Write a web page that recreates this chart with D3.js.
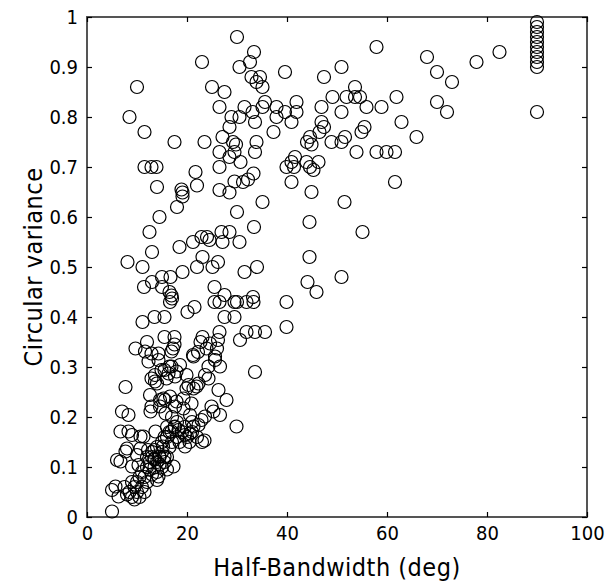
<!DOCTYPE html>
<html><head><meta charset="utf-8">
<script src="https://cdn.jsdelivr.net/npm/d3@7"></script>
<style>body{margin:0;background:#fff}</style>
</head><body>
<svg id="c" width="615" height="585"></svg>
<script>
const xTicks = [0,20,40,60,80,100];
const yTicks = [0,0.1,0.2,0.3,0.4,0.5,0.6,0.7,0.8,0.9,1];
const xTitle = "Half-Bandwidth (deg)";
const yTitle = "Circular variance";
const halfBandwidth = [
30,23,33.4,30.5,32.6,32.9,10,25,27.5,26.5,31.5,33.1,8.5,28.9,30.5,33.6,11.5,28.5,17.5,23.5,27.1,29.2,29.8,26.5,29.5,28.5,33.6,11.5,12.9,13.9,26.5,30.7,21.7,14,18.9,22,26.5,29.5,31.2,32.2,33.3,
57.9,39.6,50.9,47.4,34.6,33.9,35.1,53.6,49.1,51.9,53.6,54.6,61.9,55.9,58.9,46.9,50.9,41.9,41.9,35.6,35.1,37.9,37.9,39.6,40.9,37.3,46.9,47.4,46.5,62.9,55.5,54.9,65.9,44.6,44,44.9,51.6,50.9,48.9,33.9,53.9,57.9,59.9,61.6,41.6,39.9,40.9,41.4,43.9,44.6,46.3,45.3,40.9,61.6,44.9,
90,90,90,90,90,90,90,90,90,90,90,68,70,73,77.9,82.5,70,72,
19.1,19.1,28.5,30,18,14.5,12.5,18.5,13,21.2,22.9,24,24.5,26.9,28.5,27.1,30.5,33.4,8.1,11.1,23.1,22,25.1,26.2,19.1,31.5,34,15,16.7,13,11.4,15,16.5,16.9,17,16.6,25.5,27.5,25.5,26.5,29.5,30,31.9,33.2,21.5,20.1,11.1,13.5,15.5,27.5,29.5,31.9,30.6,33.6,35.6,
15.5,17.5,23.1,22.7,23.9,26.5,26.2,26,12,24.6,9.7,11.6,12.9,14.3,17.2,17.5,21.2,22.2,
16.9,21.3,25.6,26.6,24.3,23.6,14.3,12.3,18.6,16.9,17.9,14.9,13.6,12.9,13.6,15.9,17.6,20.3,21.9,22.3,24.3,26.3,27.9,12.6,14.6,16.6,19.3,20.9,17.6,14.6,12.9,24.9,
33.6,25.6,16.3,19.9,21.3,19.9,25.3,26.6,23.6,22.9,29.9,17.9,19.3,15.6,20.6,21.3,22.3,17.6,18.3,16.9,19.6,20.6,23.5,19.6,17.3,16,
7.7,14,15.3,12.7,7,8.3,15.7,6.7,8.3,9,10.7,11.3,13.7,8,7.7,10.7,10,6,6.7,9,10.3,5,5.7,6.3,5,14.3,14,15.5,16.5,12.2,13.5,15.2,13.5,14.5,15.5,
35.1,51.5,44.5,55.1,44.5,50.9,44.1,45.9,33.3,39.9,39.9,
7.5,8.5,9,9.5,10,10.5,11,9,8,10,11.5,12,10.5,9.5,
11,12,12.5,13,13.5,14,14.5,15,13,12,14,15.5,16,11.5,13,15,16.5,14,12.5,13.5,14.5,
15,16,17,18,19,17.5,16.5,18.5,20,21,19.5,22,20.5,16,17,18,15.5,21,23
];
const circularVariance = [
0.96,0.91,0.93,0.90,0.91,0.88,0.86,0.86,0.85,0.82,0.82,0.81,0.80,0.80,0.80,0.79,0.77,0.78,0.75,0.75,0.76,0.75,0.745,0.73,0.73,0.72,0.73,0.70,0.70,0.70,0.70,0.71,0.69,0.66,0.655,0.663,0.654,0.671,0.67,0.675,0.687,
0.94,0.89,0.90,0.88,0.88,0.87,0.86,0.86,0.84,0.84,0.84,0.84,0.84,0.82,0.82,0.82,0.81,0.83,0.81,0.83,0.82,0.82,0.80,0.81,0.79,0.77,0.79,0.78,0.77,0.79,0.78,0.77,0.76,0.76,0.75,0.745,0.76,0.75,0.75,0.75,0.73,0.73,0.73,0.73,0.72,0.70,0.71,0.70,0.71,0.70,0.71,0.694,0.67,0.67,0.65,
0.99,0.98,0.97,0.96,0.95,0.94,0.93,0.92,0.91,0.90,0.81,0.92,0.89,0.87,0.91,0.93,0.83,0.81,
0.649,0.641,0.649,0.61,0.62,0.60,0.57,0.54,0.53,0.55,0.56,0.56,0.554,0.57,0.57,0.55,0.55,0.58,0.51,0.50,0.52,0.50,0.50,0.51,0.49,0.49,0.50,0.48,0.48,0.47,0.46,0.46,0.45,0.443,0.437,0.43,0.46,0.444,0.43,0.43,0.43,0.43,0.43,0.44,0.42,0.41,0.39,0.40,0.40,0.40,0.40,0.37,0.354,0.37,0.37,
0.36,0.36,0.36,0.35,0.337,0.37,0.354,0.337,0.35,0.347,0.337,0.331,0.327,0.327,0.337,0.345,0.324,0.33,
0.331,0.321,0.321,0.301,0.301,0.284,0.314,0.311,0.304,0.301,0.291,0.294,0.284,0.277,0.271,0.277,0.281,0.264,0.261,0.267,0.277,0.254,0.234,0.244,0.234,0.241,0.237,0.227,0.221,0.221,0.221,0.221,
0.29,0.314,0.287,0.284,0.257,0.257,0.211,0.204,0.201,0.194,0.181,0.231,0.217,0.234,0.204,0.181,0.184,0.181,0.174,0.171,0.164,0.167,0.153,0.141,0.101,0.095,
0.26,0.267,0.237,0.211,0.211,0.204,0.207,0.171,0.171,0.164,0.161,0.161,0.171,0.137,0.131,0.137,0.124,0.114,0.111,0.101,0.104,0.054,0.061,0.041,0.011,0.081,0.074,0.294,0.301,0.134,0.134,0.141,0.117,0.121,0.121,
0.63,0.63,0.59,0.57,0.52,0.48,0.47,0.45,0.43,0.43,0.38,
0.06,0.05,0.04,0.06,0.05,0.04,0.06,0.07,0.045,0.07,0.05,0.07,0.08,0.035,
0.09,0.10,0.11,0.12,0.10,0.11,0.12,0.13,0.13,0.12,0.09,0.11,0.12,0.08,0.085,0.10,0.14,0.14,0.095,0.115,0.105,
0.15,0.16,0.15,0.16,0.17,0.18,0.17,0.15,0.16,0.17,0.18,0.16,0.15,0.18,0.20,0.19,0.16,0.19,0.15
];

const svg = d3.select("#c");
const m = {l:87, t:17, w:500, h:500};
const x = d3.scaleLinear().domain([0,100]).range([m.l, m.l+m.w]);
const y = d3.scaleLinear().domain([0,1]).range([m.t+m.h, m.t]);
const font = "'DejaVu Sans Condensed','Liberation Sans Narrow',sans-serif";
const yFmt = d => (d===0||d===1) ? String(d) : d3.format(".1f")(d);

svg.append("rect").attr("x", m.l).attr("y", m.t).attr("width", m.w).attr("height", m.h)
  .attr("fill","none").attr("stroke","#555").attr("stroke-width",2);

function styleAx(g, labels){
  g.select(".domain").remove();
  g.selectAll(".tick line").attr("stroke","#000").attr("stroke-width",1.2);
  g.selectAll(".tick text").attr("font-family",font).attr("font-size","20px").attr("fill","#000");
  if(!labels) g.selectAll(".tick text").remove();
}
svg.append("g").attr("transform",`translate(0,${m.t+m.h})`)
  .call(d3.axisBottom(x).tickValues(xTicks).tickSize(-5).tickPadding(9).tickFormat(d3.format("d")))
  .call(g=>styleAx(g,true));
svg.append("g").attr("transform",`translate(0,${m.t})`)
  .call(d3.axisTop(x).tickValues(xTicks).tickSize(-5))
  .call(g=>styleAx(g,false));
svg.append("g").attr("transform",`translate(${m.l},0)`)
  .call(d3.axisLeft(y).tickValues(yTicks).tickSize(-5).tickPadding(9).tickFormat(yFmt))
  .call(g=>styleAx(g,true));
svg.append("g").attr("transform",`translate(${m.l+m.w},0)`)
  .call(d3.axisRight(y).tickValues(yTicks).tickSize(-5))
  .call(g=>styleAx(g,false));

const pts = d3.zip(halfBandwidth, circularVariance);
svg.append("g").selectAll("circle").data(pts).join("circle")
  .attr("cx", d=>x(d[0])).attr("cy", d=>y(d[1])).attr("r", 6.5)
  .attr("fill","none").attr("stroke","#000").attr("stroke-width",1.2);

svg.append("text").attr("x", m.l+m.w/2).attr("y", 576).attr("text-anchor","middle")
  .attr("font-family",font).attr("font-size","25px").attr("letter-spacing","0.5px").text(xTitle);
svg.append("text").attr("transform",`translate(42,${m.t+m.h/2}) rotate(-90)`).attr("text-anchor","middle")
  .attr("font-family",font).attr("font-size","25px").attr("letter-spacing","0.5px").text(yTitle);
</script>
</body></html>
